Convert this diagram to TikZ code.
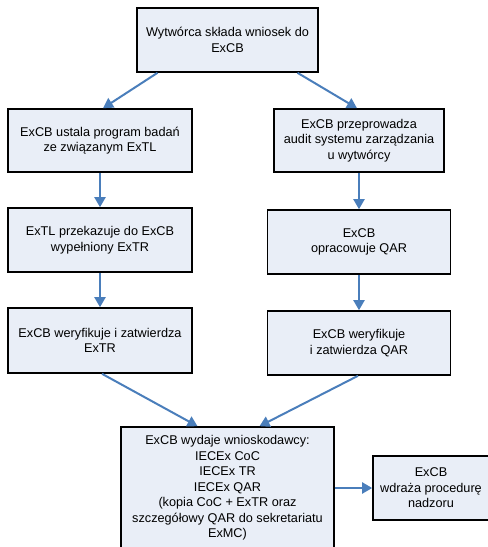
\documentclass[tikz,border=0pt]{standalone}
\usepackage{fontspec}
\setmainfont{Liberation Sans}
\usetikzlibrary{arrows.meta}
\definecolor{boxfill}{HTML}{E9EEF7}
\definecolor{arrowblue}{HTML}{4A7EBB}
\begin{document}
\begin{tikzpicture}[x=1pt,y=-1pt,
  box/.style={draw=black,line width=1.6pt,fill=boxfill,align=center,inner sep=0pt,
    font=\fontsize{12.7}{15.5}\selectfont},
  conn/.style={draw=arrowblue,line width=2pt,-{Triangle[length=10pt,width=11pt]}}]
\useasboundingbox (0,0) rectangle (488,547);
\begin{scope}
\clip (0,0) rectangle (488,547);
\node[box,minimum width=181pt,minimum height=64pt] (top) at (227.5,40) {Wytwórca składa wniosek do\\ExCB};
\node[box,minimum width=184pt,minimum height=63pt] (L1) at (100,140.5) {ExCB ustala program badań\\ze związanym ExTL};
\node[box,minimum width=170pt,minimum height=63pt] (R1) at (359,140.5) {ExCB przeprowadza\\audit systemu zarządzania\\u wytwórcy};
\node[box,minimum width=184pt,minimum height=64pt] (L2) at (100,240) {ExTL przekazuje do ExCB\\wypełniony ExTR};
\node[box,minimum width=183pt,minimum height=64pt] (R2) at (359,242) {ExCB\\opracowuje QAR};
\node[box,minimum width=184pt,minimum height=65pt] (L3) at (100,340.5) {ExCB weryfikuje i zatwierdza\\ExTR};
\node[box,minimum width=183pt,minimum height=64pt] (R3) at (359,343) {ExCB weryfikuje\\i zatwierdza QAR};
\node[box,minimum width=213pt,minimum height=122pt] (B) at (227.5,488) {ExCB wydaje wnioskodawcy:\\IECEx CoC\\IECEx TR\\IECEx QAR\\(kopia CoC + ExTR oraz\\szczegółowy QAR do sekretariatu\\ExMC)};
\node[box,minimum width=116pt,minimum height=64pt] (S) at (431,488) {ExCB\\wdraża procedurę\\nadzoru};
\end{scope}
\draw[conn] ([xshift=-70pt]top.south) -- ([xshift=3pt]L1.north);
\draw[conn] ([xshift=70pt]top.south) -- ([xshift=-2pt]R1.north);
\draw[conn] (L1.south) -- (L2.north);
\draw[conn] (R1.south) -- (R2.north);
\draw[conn] (L2.south) -- (L3.north);
\draw[conn] (R2.south) -- (R3.north);
\draw[conn] ([xshift=2pt]L3.south) -- ([xshift=-30pt]B.north);
\draw[conn] ([xshift=-1pt]R3.south) -- ([xshift=32pt]B.north);
\draw[conn] (B.east) -- (S.west);
\end{tikzpicture}
\end{document}
